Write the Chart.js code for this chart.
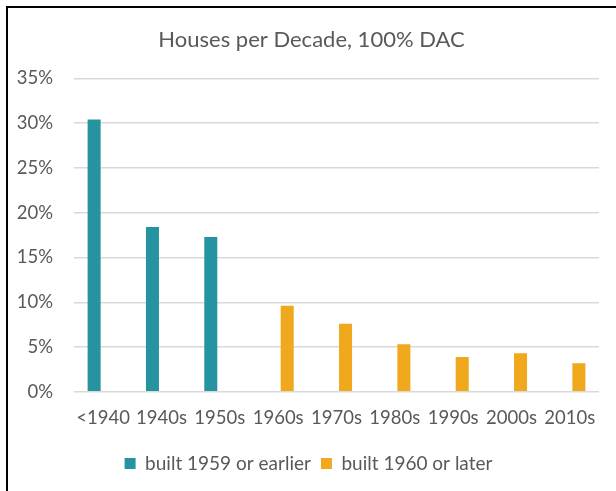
<!DOCTYPE html>
<html>
<head>
<meta charset="utf-8">
<script src="https://cdn.jsdelivr.net/npm/chart.js@4"></script>
<style>
  html, body { margin: 0; padding: 0; background: #fff; }
  #wrap { position: relative; width: 616px; height: 491px; overflow: hidden; }
  #frame { position: absolute; left: 6px; top: 6px; width: 700px; height: 600px;
           border-left: 2px solid #000; border-top: 2px solid #000; }
  canvas { position: absolute; left: 0; top: 0; }
</style>
</head>
<body>
<div id="wrap">
  <div id="frame"></div>
  <canvas id="myChart0" width="616" height="491"></canvas>
</div>
<script>
const decades = ['<1940', '1940s', '1950s', '1960s', '1970s', '1980s', '1990s', '2000s', '2010s'];
const builtBefore = [30.4, 18.4, 17.3, null, null, null, null, null, null];
const builtAfter = [null, null, null, 9.6, 7.6, 5.3, 3.9, 4.3, 3.2];
const yTicks = [0, 5, 10, 15, 20, 25, 30, 35];

const grey = '#595959';
const fontName = 'Lato, "Open Sans", sans-serif';

// nudge title and legend a bit to the right, like the original
const centerShift = {
    id: 'centerShift',
    afterLayout(chart) {
        if (chart.legend) chart.legend.left += 18;
        if (chart.titleBlock) chart.titleBlock.left += 24;
    }
};

const ctx = document.getElementById('myChart0').getContext('2d');

let myChart = new Chart(ctx, {
    type: 'bar',
    data: {
        labels: decades,
        datasets: [{
            label: 'built 1959 or earlier',
            data: builtBefore,
            backgroundColor: '#2594A0',
            categoryPercentage: 0.62,
            barPercentage: 0.72
        }, {
            label: 'built 1960 or later',
            data: builtAfter,
            backgroundColor: '#F0A81C',
            categoryPercentage: 0.62,
            barPercentage: 0.72
        }]
    },
    plugins: [centerShift],
    options: {
        responsive: false,
        maintainAspectRatio: false,
        animation: false,
        layout: { padding: { left: 0, right: 17, top: 0, bottom: 8 } },
        plugins: {
            title: {
                display: true,
                text: 'Houses per Decade, 100% DAC',
                color: grey,
                font: { family: fontName, size: 22, weight: 'normal' },
                padding: { top: 27, bottom: 25 }
            },
            legend: {
                position: 'bottom',
                labels: {
                    color: grey,
                    font: { family: fontName, size: 19 },
                    boxWidth: 11,
                    boxHeight: 11,
                    padding: 10
                }
            },
            tooltip: { enabled: false }
        },
        scales: {
            x: {
                grid: { display: false, drawTicks: false },
                border: { display: false },
                ticks: {
                    color: grey,
                    font: { family: fontName, size: 18.5 },
                    padding: 15,
                    maxRotation: 0,
                    minRotation: 0,
                    autoSkip: false
                }
            },
            y: {
                min: 0,
                max: 35,
                afterBuildTicks: function(scale) {
                    scale.ticks = yTicks.map(v => ({ value: v }));
                },
                afterFit: function(scale) { scale.width = 74; },
                grid: { color: '#d9d9d9', lineWidth: 1.5, drawTicks: false },
                border: { display: false },
                ticks: {
                    color: grey,
                    font: { family: fontName, size: 18.5 },
                    padding: 21,
                    callback: v => v + '%'
                }
            }
        }
    }
});
</script>
</body>
</html>
